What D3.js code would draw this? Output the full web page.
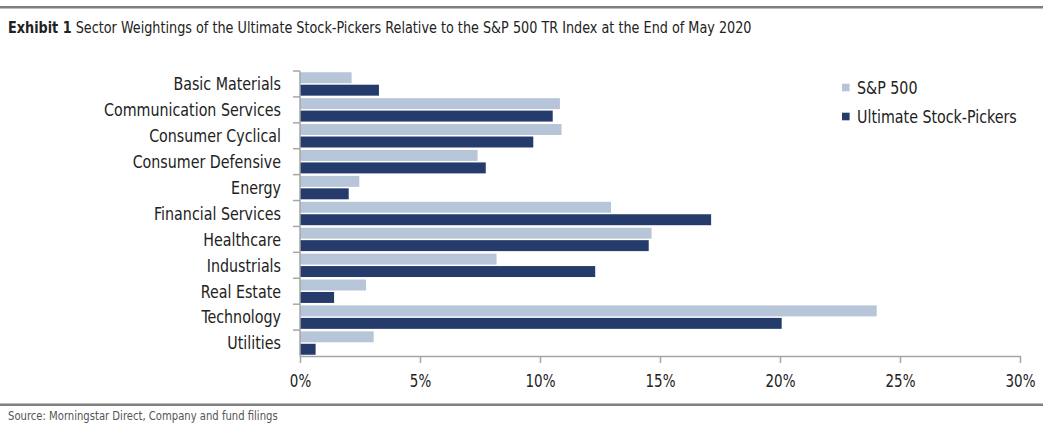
<!DOCTYPE html>
<html><head><meta charset="utf-8">
<script src="https://cdn.jsdelivr.net/npm/d3@7"></script>
<style>
body{margin:0;background:#fff;}
text{font-family:"Liberation Sans Narrow","DejaVu Sans Condensed","Roboto",sans-serif;}
</style></head>
<body><svg id="c" width="1062" height="433"></svg>
<script>
const categories = ["Basic Materials","Communication Services","Consumer Cyclical","Consumer Defensive","Energy","Financial Services","Healthcare","Industrials","Real Estate","Technology","Utilities"];
const sp500 = [2.15,10.83,10.90,7.40,2.47,12.96,14.65,8.19,2.75,24.03,3.07];
const stockPickers = [3.29,10.53,9.72,7.74,2.03,17.13,14.53,12.30,1.42,20.07,0.65];
const seriesNames = ["S&P 500","Ultimate Stock-Pickers"];
const xTicks = [0,5,10,15,20,25,30];
const colors = ["#b7c5d8","#243b6c"];

const svg = d3.select("#c");

// helper: place a text at (px,py) with horizontal squeeze factor f
function place(t, px, py, f){
  t.attr("x",0).attr("y",0).attr("transform",`translate(${px},${py}) scale(${f},1)`);
}

// top rule and title
svg.append("rect").attr("x",0).attr("y",6).attr("width",1043).attr("height",2.5).attr("fill","#7f7f7f");
const title = svg.append("text").attr("font-size",16).attr("fill","#222");
title.append("tspan").attr("font-weight","bold").text("Exhibit 1");
title.append("tspan").text(" Sector Weightings of the Ultimate Stock-Pickers Relative to the S&P 500 TR Index at the End of May 2020");
const tw = title.node().getComputedTextLength();
place(title, 8, 32.5, 744/tw);

const x = d3.scaleLinear().domain([0,30]).range([300,1020]);
const y = d3.scaleBand().domain(categories).range([71,356]);
const inner = d3.scaleBand().domain([0,1]).range([0,y.bandwidth()]).paddingInner(0.12).paddingOuter(0.1);

const data = categories.map((c,i)=>({c, v:[sp500[i], stockPickers[i]]}));
const g = svg.append("g");
data.forEach(d=>{
  d.v.forEach((v,k)=>{
    g.append("rect").attr("x",x(0)).attr("y",y(d.c)+inner(k)).attr("width",x(v)-x(0)).attr("height",inner.bandwidth()).attr("fill",colors[k]);
  });
});

// x axis
const xa = svg.append("g").attr("transform","translate(0,356)")
  .call(d3.axisBottom(x).tickValues(xTicks).tickFormat(d=>d+"%").tickSize(7).tickSizeOuter(0));
xa.select(".domain").attr("stroke","#a6a6a6").attr("stroke-width",1.5);
xa.selectAll(".tick line").attr("stroke","#a6a6a6").attr("stroke-width",1.5);
xa.selectAll(".tick text").attr("font-size",17).attr("fill","#222").attr("font-family",null)
  .attr("y",0).attr("dy",null).attr("transform","translate(0,31) scale(0.88,1)");

// y axis
svg.append("line").attr("x1",300).attr("x2",300).attr("y1",71).attr("y2",356).attr("stroke","#a6a6a6").attr("stroke-width",1.5);
const labels = [];
categories.forEach(c=>{
  svg.append("line").attr("x1",293).attr("x2",300).attr("y1",y(c)).attr("y2",y(c)).attr("stroke","#a6a6a6").attr("stroke-width",1.5);
  labels.push(svg.append("text").attr("text-anchor","end").attr("font-size",17.5).attr("fill","#222").text(c));
});
const refW = labels[1].node().getComputedTextLength();
const lf = 177/refW;
labels.forEach((t,i)=>place(t, 281, y(categories[i])+y.bandwidth()/2+6.3, lf));

// legend
seriesNames.forEach((n,i)=>{
  const ly = 87.5 + i*29;
  svg.append("rect").attr("x",842).attr("y",ly-3.8).attr("width",7.6).attr("height",7.6).attr("fill",colors[i]);
  const t = svg.append("text").attr("font-size",17.5).attr("fill","#222").text(n);
  place(t, 857, ly+6.3, lf);
});

// bottom rule and source
svg.append("rect").attr("x",0).attr("y",403.5).attr("width",1043).attr("height",2.5).attr("fill","#7f7f7f");
const src = svg.append("text").attr("font-size",12.5).attr("fill","#555").text("Source: Morningstar Direct, Company and fund filings");
const sw = src.node().getComputedTextLength();
place(src, 8, 419.5, 270/sw);
</script></body></html>
